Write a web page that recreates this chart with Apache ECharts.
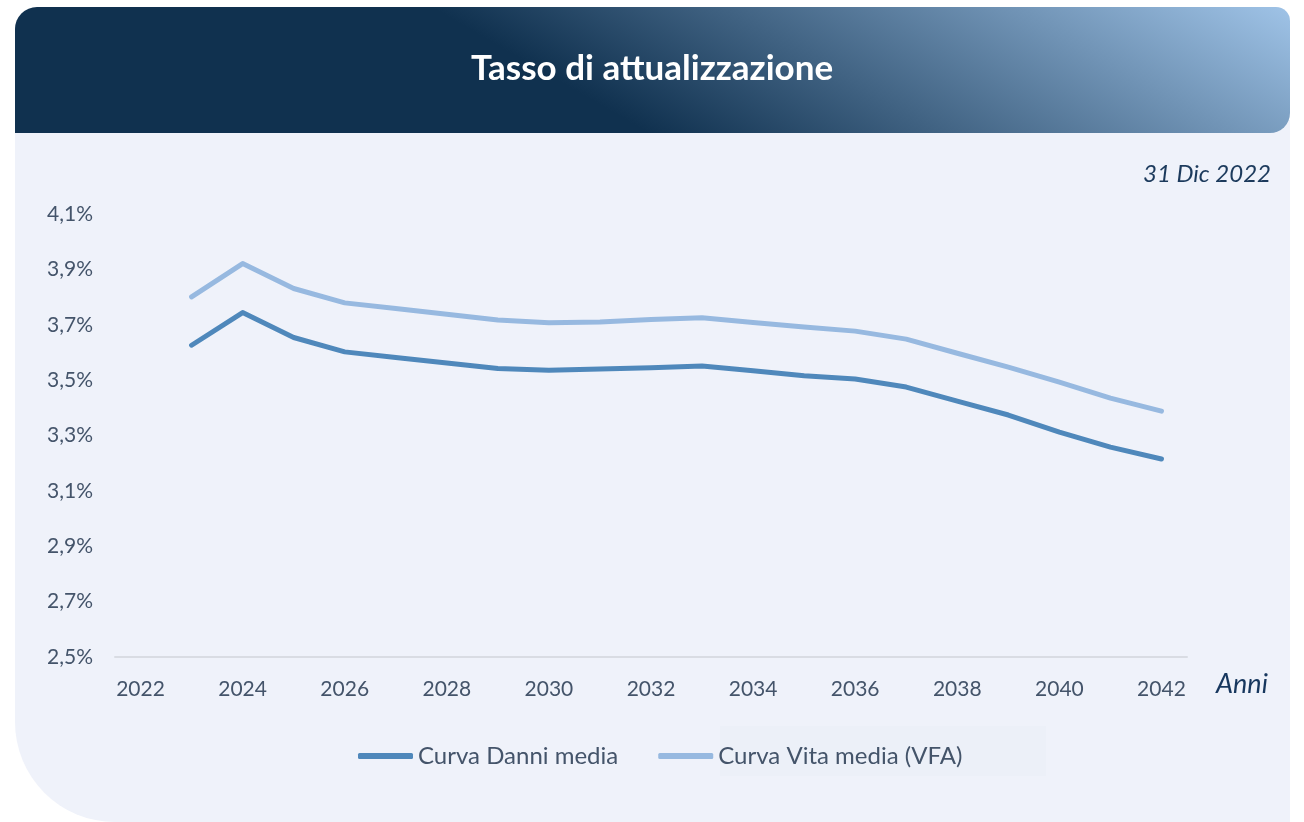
<!DOCTYPE html>
<html>
<head>
<meta charset="utf-8">
<script src="https://cdn.jsdelivr.net/npm/echarts@6/dist/echarts.min.js"></script>
<style>
html, body { margin: 0; padding: 0; background: #ffffff; }
#chart { width: 1304px; height: 822px; }
</style>
</head>
<body>
<div id="chart"></div>
<script>
// anni sull'asse x (la prima categoria 2022 resta vuota)
var anni = ['2022', '2023', '2024', '2025', '2026', '2027', '2028', '2029', '2030', '2031', '2032',
	'2033', '2034', '2035', '2036', '2037', '2038', '2039', '2040', '2041', '2042'];
// valori, in %
var curvaDanni = [null, 3.626, 3.744, 3.654, 3.602, 3.582, 3.562, 3.542, 3.536, 3.540, 3.545,
	3.551, 3.534, 3.516, 3.504, 3.475, 3.424, 3.374, 3.312, 3.258, 3.215];
var curvaVita = [null, 3.801, 3.921, 3.831, 3.779, 3.759, 3.738, 3.717, 3.707, 3.710, 3.719,
	3.725, 3.708, 3.692, 3.677, 3.648, 3.597, 3.547, 3.493, 3.435, 3.388];
var nomiSerie = ['Curva Danni media', 'Curva Vita media (VFA)'];
var titolo = 'Tasso di attualizzazione';
var dataRif = '31 Dic 2022';

var font = 'Lato, "Open Sans", sans-serif';
var grigio = '#44546a';

var dom = document.getElementById('chart');
var myChart = echarts.init(dom);

var option = {
	backgroundColor: '#ffffff',
	animation: false,
	graphic: [
		// pannello chiaro
		{
			type: 'rect',
			z: -10,
			shape: { x: 15, y: 120, width: 1275, height: 702, r: [0, 0, 0, 100] },
			style: { fill: '#eff2fa' }
		},
		// testata con gradiente
		{
			type: 'rect',
			z: -5,
			shape: { x: 15, y: 7, width: 1275, height: 126, r: [22, 14, 20, 0] },
			style: {
				fill: new echarts.graphic.LinearGradient(540, 70, 760, -310, [
					{ offset: 0, color: '#10314f' },
					{ offset: 1, color: '#a2c6ea' }
				], true)
			}
		},
		// leggero riquadro dietro la seconda voce di legenda
		{
			type: 'rect',
			z: -4,
			shape: { x: 720, y: 726, width: 326, height: 50 },
			style: { fill: '#ecf0f8' }
		},
		{
			type: 'text',
			left: 'center',
			top: 51,
			style: { text: titolo, fill: '#ffffff', font: 'bold 35px ' + font }
		},
		{
			type: 'text',
			right: 33,
			top: 162,
			style: { text: dataRif, fill: '#1c3a5c', font: 'italic 24px ' + font }
		},
		{
			type: 'text',
			left: 1216,
			top: 671,
			style: { text: 'Anni', fill: '#17375e', font: 'italic 27px ' + font }
		}
	],
	grid: {
		left: 115,
		right: 117,
		top: 214,
		bottom: 165
	},
	legend: {
		left: 353,
		top: 739,
		itemWidth: 55,
		itemHeight: 6,
		itemGap: 40,
		icon: 'roundRect',
		textStyle: { color: grigio, fontSize: 24, fontFamily: font },
		data: nomiSerie
	},
	xAxis: {
		type: 'category',
		data: anni,
		boundaryGap: true,
		axisTick: { show: false },
		axisLine: { lineStyle: { color: '#d9dce3', width: 2 } },
		axisLabel: { interval: 1, color: grigio, fontSize: 21, fontFamily: font, margin: 22 }
	},
	yAxis: {
		type: 'value',
		min: 2.5,
		max: 4.1,
		interval: 0.2,
		axisLine: { show: false },
		axisTick: { show: false },
		splitLine: { show: false },
		axisLabel: {
			color: grigio,
			fontSize: 21,
			fontFamily: font,
			margin: 22,
			formatter: function (v) {
				return v.toFixed(1).replace('.', ',') + '%';
			}
		}
	},
	series: [{
		name: nomiSerie[0],
		type: 'line',
		data: curvaDanni,
		symbol: 'none',
		color: '#4f88bb',
		lineStyle: { width: 5, cap: 'round', join: 'round' }
	}, {
		name: nomiSerie[1],
		type: 'line',
		data: curvaVita,
		symbol: 'none',
		color: '#97b9e0',
		lineStyle: { width: 5, cap: 'round', join: 'round' }
	}]
};
myChart.setOption(option);
</script>
</body>
</html>
